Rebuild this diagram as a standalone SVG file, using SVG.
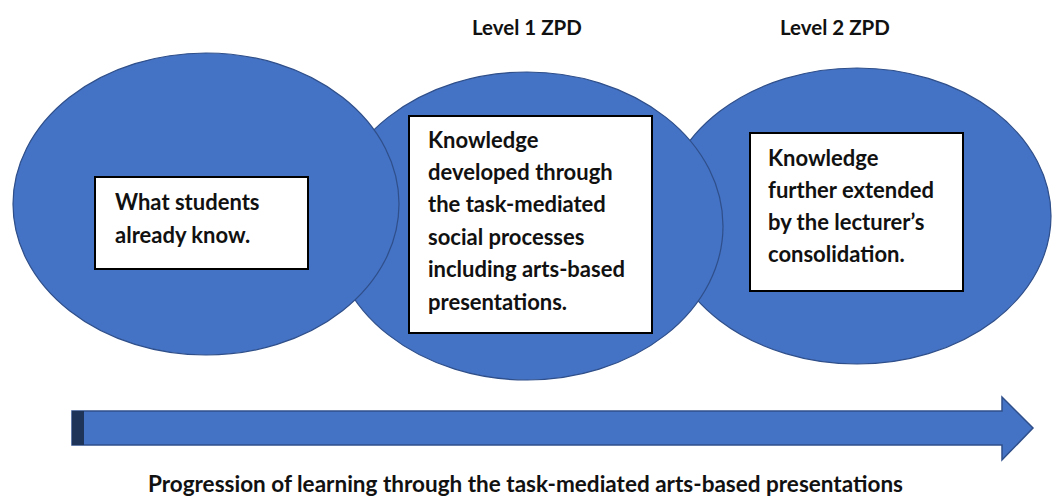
<svg xmlns="http://www.w3.org/2000/svg" width="1052" height="497" viewBox="0 0 1052 497">
  <style>
    .bubble { fill: #4472C4; stroke: #2F4F8A; stroke-width: 1.2; }
    .box { fill: #FFFFFF; stroke: #000000; stroke-width: 2; }
    .t { font-family: Lato, "Liberation Sans", sans-serif; font-weight: 700; font-size: 22px; fill: #111111; }
    .title { font-family: Lato, "Liberation Sans", sans-serif; font-weight: 700; font-size: 20.5px; fill: #111111; }
    .caption { font-family: Lato, "Liberation Sans", sans-serif; font-weight: 700; font-size: 23px; fill: #111111; }
  </style>
  <rect width="1052" height="497" fill="#FFFFFF"/>
  <g id="level2-zpd">
    <ellipse class="bubble" cx="857" cy="216" rx="194" ry="148"/>
  </g>
  <g id="level1-zpd">
    <ellipse class="bubble" cx="527" cy="226" rx="196" ry="154"/>
  </g>
  <g id="known">
    <ellipse class="bubble" cx="206" cy="204" rx="193" ry="151"/>
    <rect class="box" x="95" y="177" width="213" height="92"/>
    <text class="t" x="115" y="210">What students</text>
    <text class="t" x="115" y="243">already know.</text>
  </g>
  <g id="level1-box">
    <rect class="box" x="409" y="116" width="243" height="217"/>
    <text class="t" x="428" y="148">Knowledge</text>
    <text class="t" x="428" y="180">developed through</text>
    <text class="t" x="428" y="212">the task-mediated</text>
    <text class="t" x="428" y="245">social processes</text>
    <text class="t" x="428" y="277">including arts-based</text>
    <text class="t" x="428" y="310">presentations.</text>
  </g>
  <g id="level2-box">
    <rect class="box" x="750" y="133" width="213" height="158"/>
    <text class="t" x="768" y="166">Knowledge</text>
    <text class="t" x="768" y="198">further extended</text>
    <text class="t" x="768" y="230">by the lecturer’s</text>
    <text class="t" x="768" y="262">consolidation.</text>
  </g>
  <g id="labels">
    <text class="title" x="472" y="35">Level 1 ZPD</text>
    <text class="title" x="780" y="35">Level 2 ZPD</text>
  </g>
  <g id="connectors">
    <path d="M72,411 L1002,411 L1002,397 L1033,428 L1002,460 L1002,445 L72,445 Z" fill="#4472C4" stroke="#2F4F8A" stroke-width="1.5"/>
    <rect x="72" y="411" width="12" height="34" fill="#1F3459"/>
    <text class="caption" x="148" y="492" textLength="755" lengthAdjust="spacingAndGlyphs">Progression of learning through the task-mediated arts-based presentations</text>
  </g>
</svg>
